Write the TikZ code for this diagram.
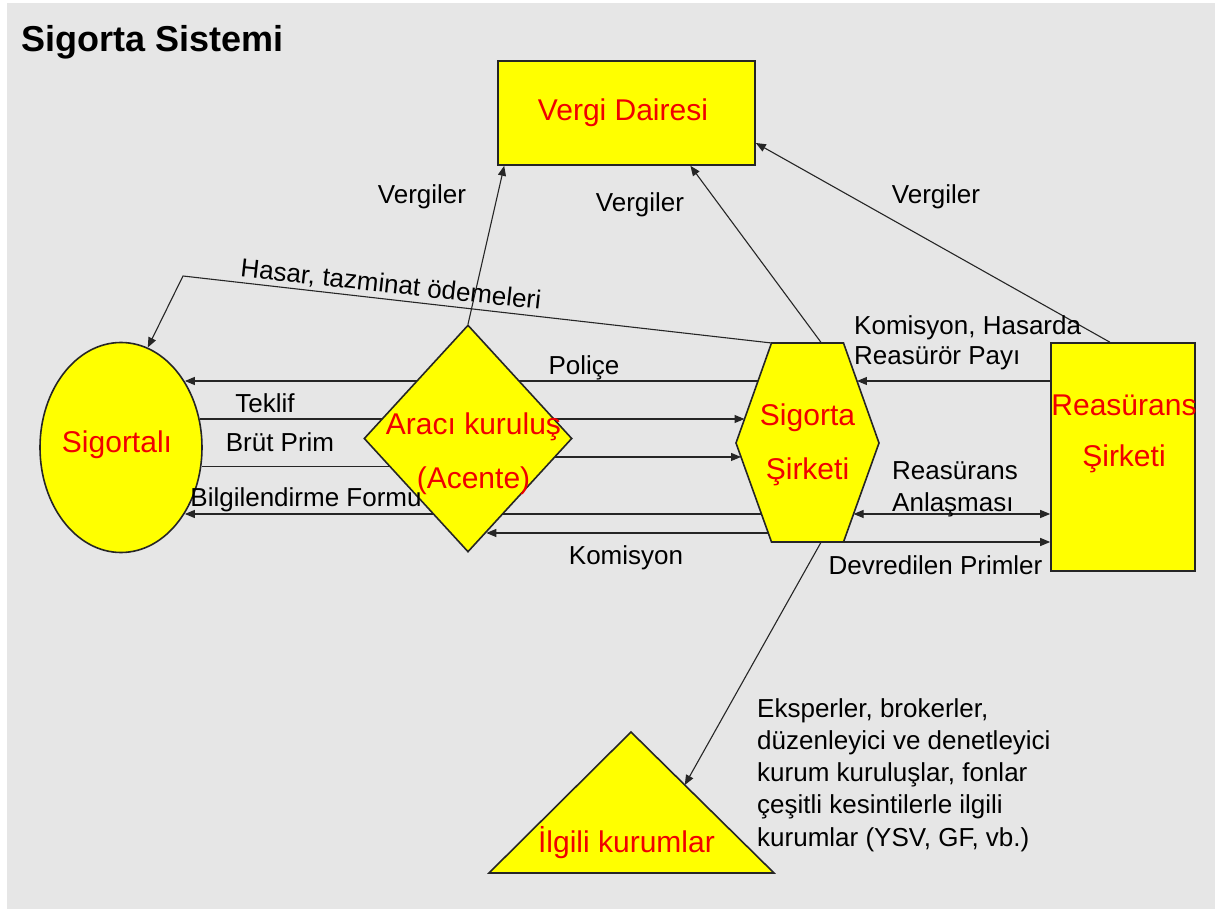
\documentclass[tikz,border=0pt]{standalone}
\usepackage{fontspec}
\setmainfont{Liberation Sans}
\usetikzlibrary{shapes.geometric,arrows.meta,calc}
\definecolor{bggray}{HTML}{E6E6E6}
\definecolor{boxyellow}{HTML}{FFFF00}
\definecolor{labelred}{HTML}{F00000}
\pgfdeclarelayer{backdrop}
\pgfdeclarelayer{wires}
\pgfsetlayers{backdrop,wires,main}
\begin{document}
\begin{tikzpicture}[x=1pt,y=-1pt,
  shapebox/.style={draw=black!85, line width=1.6pt, fill=boxyellow, inner sep=0pt},
  redtxt/.style={text=labelred, font=\fontsize{30}{54}\selectfont, inner sep=0pt},
  blacktxt/.style={text=black, font=\fontsize{26}{32}\selectfont, inner sep=0pt},
  wire/.style={draw=black!85, line width=1.1pt},
  arr/.style={wire, -{Triangle[length=10pt,width=8pt]}},
  arrboth/.style={wire, {Triangle[length=10pt,width=8pt]}-{Triangle[length=10pt,width=8pt]}}]

\useasboundingbox (0,0) rectangle (1232,909);
\begin{pgfonlayer}{backdrop}
  \fill[bggray] (7,3) rectangle (1215,909);
\end{pgfonlayer}

% title
\node[anchor=base west, inner sep=0pt, font=\bfseries\fontsize{36}{40}\selectfont] (title) at (21,52) {Sigorta Sistemi};

% tax office
\node[shapebox, rectangle, minimum width=257, minimum height=104] (ver) at (626.5,113) {};
\node[redtxt, anchor=base] (verT) at (623,121) {Vergi Dairesi};

% insured
\node[shapebox, ellipse, minimum width=162, minimum height=210] (sig) at (121,447.5) {};
\node[redtxt, anchor=base] (sigT) at (117,452) {Sigortalı};

% intermediary (multi-line labels are placed by the baseline of their last line)
\node[shapebox, diamond, minimum width=208, minimum height=227] (ara) at (468,438.5) {};
\node[redtxt, anchor=base, align=center] (araT) at (473.5,488) {Aracı kuruluş\\(Acente)};

% insurance company (hexagon)
\coordinate (sTL) at (771.5,343);
\coordinate (sTR) at (843.5,343);
\coordinate (sR)  at (879,443);
\coordinate (sBR) at (843.5,542);
\coordinate (sBL) at (771.5,542);
\coordinate (sL)  at (736,443);
\draw[shapebox] (sTL) -- (sTR) -- (sR) -- (sBR) -- (sBL) -- (sL) -- cycle;
\node[redtxt, anchor=base, align=center] (sirT) at (807.5,479) {Sigorta\\Şirketi};

% reinsurance company
\node[shapebox, rectangle, minimum width=144, minimum height=228] (rea) at (1123,457) {};
\node[redtxt, anchor=base, align=center, font=\fontsize{30}{51}\selectfont] (reaT) at (1124,466) {Reasürans\\Şirketi};

% related institutions (triangle)
\coordinate (tA) at (631,732);
\coordinate (tL) at (489,873);
\coordinate (tR) at (774,873);
\draw[shapebox] (tA) -- (tR) -- (tL) -- cycle;
\node[redtxt, anchor=base] (ilgT) at (626.5,852) {İlgili kurumlar};

% connectors
\begin{pgfonlayer}{wires}
  \draw[arr] (ara.north) -- ($(ver.south west)+(7,0)$);
  \coordinate (sTop) at ($(sTL)!0.694!(sTR)$);
  \draw[arr] (sTop) -- ($(ver.south west)!0.747!(ver.south east)$);
  \coordinate (rTop) at ($(rea.north west)!0.41!(rea.north east)$);
  \draw[arr] (rTop) -- ($(ver.east)+(0,30)$);

  \coordinate (hasarK) at (183,276);
  \draw[arr] (sTL) -- (hasarK) -- (sig.75.5);

  \coordinate (pol) at ($(sTL)!0.38!(sL)$);
  \draw[arr] (pol) -- (pol -| sig.46.7);
  \coordinate (kh) at ($(sTR)!0.38!(sR)$);
  \draw[arr] (kh -| rea.west) -- (kh);

  \coordinate (tek) at ($(sTL)!0.76!(sL)$);
  \draw[arr] (tek -| sig.20.1) -- (tek);

  \coordinate (bp) at ($(sL)!0.141!(sBL)$);
  \draw[wire] (sig.-13.1) -- (sig.-13.1 -| ara.center);
  \draw[arr] (bp -| ara.center) -- (bp);

  \coordinate (bil) at ($(sL)!0.717!(sBL)$);
  \draw[arr] (bil) -- (bil -| sig.-46.7);

  \coordinate (kom) at ($(sL)!0.909!(sBL)$);
  \draw[arr] (kom) -- (kom -| ara.-79.6);

  \coordinate (ra) at ($(sR)!0.717!(sBR)$);
  \draw[arrboth] (ra) -- (ra -| rea.west);

  \draw[arr] (sBR) -- (sBR -| rea.west);

  \draw[arr] ($(sBL)!0.69!(sBR)$) -- ($(tA)!0.376!(tR)$);
\end{pgfonlayer}

% connector labels
\node[blacktxt, anchor=base] (v1) at (422,204) {Vergiler};
\node[blacktxt, anchor=base] (v2) at (640,212) {Vergiler};
\node[blacktxt, anchor=base] (v3) at (936,204) {Vergiler};
\node[blacktxt, anchor=base, rotate=-6.3] (hasT) at (390,293) {Hasar, tazminat ödemeleri};
\node[blacktxt, anchor=base] (polT) at (584,374) {Poliçe};
\node[blacktxt, anchor=base] (tekT) at (265,412) {Teklif};
\node[blacktxt, anchor=base] (bpT) at (280,451) {Brüt Prim};
\node[blacktxt, anchor=base] (bilT) at (306,506) {Bilgilendirme Formu};
\node[blacktxt, anchor=base] (komT) at (626,564) {Komisyon};
\node[blacktxt, anchor=base west, align=left, font=\fontsize{26}{30}\selectfont] (khT) at (854,364) {Komisyon, Hasarda\\Reasürör Payı};
\node[blacktxt, anchor=base west, align=left] (raT) at (892,511) {Reasürans\\Anlaşması};
\node[blacktxt, anchor=base] (devT) at (935.5,574) {Devredilen Primler};
\node[blacktxt, anchor=base west, align=left, font=\fontsize{26}{32.25}\selectfont] (desc) at (757,846) {Eksperler, brokerler,\\düzenleyici ve denetleyici\\kurum kuruluşlar, fonlar\\çeşitli kesintilerle ilgili\\kurumlar (YSV, GF, vb.)};
\end{tikzpicture}
\end{document}
